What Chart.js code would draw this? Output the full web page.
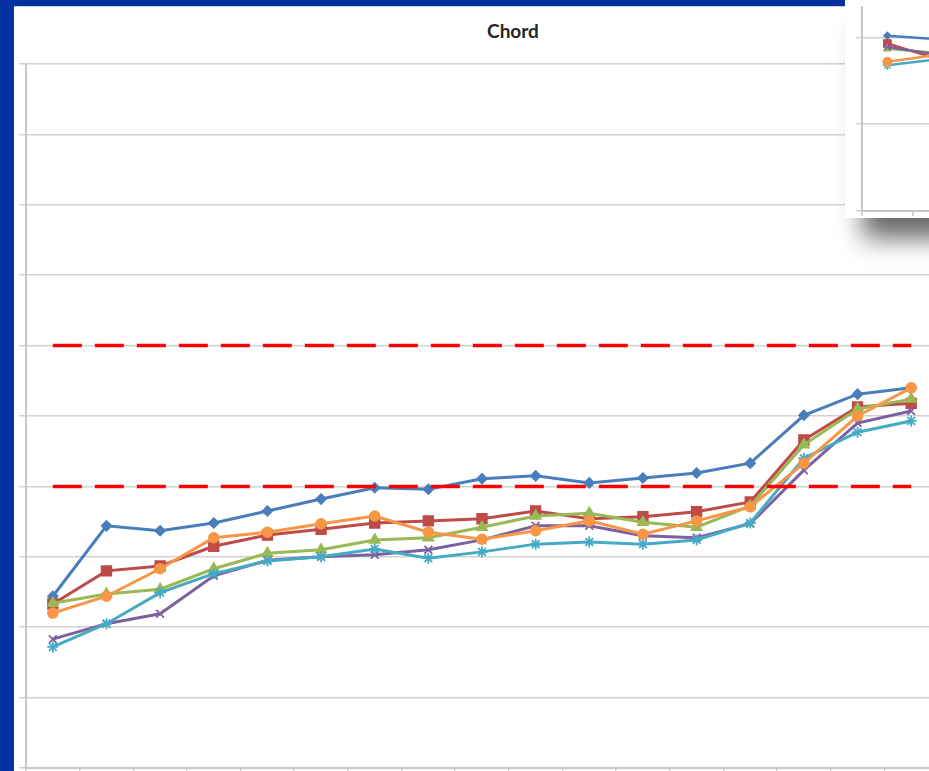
<!DOCTYPE html>
<html>
<head>
<meta charset="utf-8">
<script src="https://cdn.jsdelivr.net/npm/chart.js@4.4.1/dist/chart.umd.min.js"></script>
<style>
  html, body { margin:0; padding:0; width:929px; height:771px; overflow:hidden; background:#0232a2; }
  #panel { position:absolute; left:14px; top:6px; width:1000px; height:800px; background:#fff; border-top:1px solid #cfcfcf; }
  #mainWrap { position:absolute; left:0; top:0; width:960px; height:800px; }
  #title { position:absolute; left:0; width:1026px; top:19px; text-align:center; font-family:Lato, "Open Sans", sans-serif; font-weight:bold; font-size:19px; color:#262626; }
  #inset { position:absolute; left:845px; top:0; width:125px; height:218px; background:#fff; box-shadow: 14px 24px 24px -4px rgba(0,0,0,0.6); }
</style>
</head>
<body>
<div id="panel"></div>
<div id="title">Chord</div>
<div id="mainWrap"><canvas id="main" width="960" height="800"></canvas></div>
<div id="inset"><canvas id="ins" width="125" height="218"></canvas></div>
<script>
// ---- data (main chart) ----
const categories = ["1","2","3","4","5","6","7","8","9","10","11","12","13","14","15","16","17"];
const seriesBlue   = [2.44,3.44,3.37,3.48,3.65,3.82,3.98,3.96,4.11,4.15,4.05,4.12,4.19,4.33,5.01,5.31,5.40];
const seriesRed    = [2.33,2.80,2.87,3.15,3.31,3.39,3.48,3.51,3.54,3.65,3.54,3.57,3.64,3.78,4.66,5.13,5.18];
const seriesGreen  = [2.34,2.47,2.54,2.83,3.05,3.10,3.24,3.27,3.42,3.58,3.62,3.49,3.42,3.72,4.59,5.10,5.24];
const seriesPurple = [1.83,2.05,2.19,2.73,2.95,3.00,3.03,3.10,3.24,3.44,3.44,3.30,3.27,3.47,4.23,4.90,5.07];
const seriesCyan   = [1.72,2.05,2.49,2.76,2.94,3.00,3.11,2.98,3.07,3.18,3.21,3.18,3.24,3.48,4.40,4.77,4.93];
const seriesOrange = [2.20,2.44,2.83,3.27,3.35,3.47,3.58,3.35,3.25,3.37,3.51,3.32,3.51,3.71,4.33,5.00,5.40];
const upperLimit = 6;
const lowerLimit = 4;
const yTicks = [0,1,2,3,4,5,6,7,8,9,10];

// ---- data (inset chart, partly visible) ----
const insetCategories = ["1","2"];
const insetBlue   = [2.02,1.98];
const insetRed    = [1.93,1.75];
const insetPurple = [1.89,1.80];
const insetGreen  = [1.87,1.82];
const insetOrange = [1.72,1.80];
const insetCyan   = [1.68,1.75];
const insetTicks  = [0,1,2];

const C = { blue:'#4a7ebb', red:'#be4b48', green:'#98b954', purple:'#7d60a0', cyan:'#46aac5', orange:'#f79646' };

function series(data, color, style, r, order, lw, pbw) {
  return { data, borderColor:color, backgroundColor:color, borderWidth:lw, pointStyle:style,
           pointRadius:r, pointBorderWidth:pbw, pointBorderColor:color, pointBackgroundColor:color,
           tension:0, order };
}
function limit(v, n) { return { data: new Array(n).fill(v), borderColor:'#ff0000', borderWidth:3.5, borderDash:[29,13], pointRadius:0, tension:0, order:-1 }; }

new Chart(document.getElementById('main'), {
  type:'line',
  data:{ labels:categories, datasets:[
    series(seriesBlue,  C.blue,  'rectRot', 5,   5, 3, 1.5),
    series(seriesRed,   C.red,   'rect',    7,   4, 3, 1.5),
    series(seriesGreen, C.green, 'triangle',6,   3, 3, 1.5),
    series(seriesPurple,C.purple,'crossRot',5.5, 2, 3, 1.8),
    series(seriesCyan,  C.cyan,  'star',    5.5, 1, 3, 1.8),
    series(seriesOrange,C.orange,'circle',  5,   0, 3, 1.5),
    limit(upperLimit, categories.length),
    limit(lowerLimit, categories.length)
  ]},
  options:{
    responsive:false, animation:false, devicePixelRatio:1,
    layout:{ padding:{ left:19, top:64, right:22, bottom:27 } },
    plugins:{ legend:{display:false}, tooltip:{enabled:false}, title:{display:false} },
    scales:{
      x:{ offset:true, ticks:{display:false},
          grid:{ offset:true, drawOnChartArea:false, drawTicks:true, tickLength:5, color:'#c8c8c8', lineWidth:1.5 },
          border:{ color:'#c8c8c8', width:2 } },
      y:{ min:0, max:10, ticks:{display:false},
          afterBuildTicks: s => { s.ticks = yTicks.map(v => ({value:v})); },
          grid:{ color:'#d2d2d2', lineWidth:1.5, tickLength:7 },
          border:{ color:'#c8c8c8', width:2 } }
    }
  }
});

new Chart(document.getElementById('ins'), {
  type:'line',
  data:{ labels:insetCategories, datasets:[
    series(insetBlue,  C.blue,  'rectRot', 4,   5, 2.5, 1),
    series(insetRed,   C.red,   'rect',    5.5, 4, 2.5, 1),
    series(insetGreen, C.green, 'triangle',4.5, 3, 2.5, 1),
    series(insetPurple,C.purple,'crossRot',4.5, 2, 2.5, 1.5),
    series(insetCyan,  C.cyan,  'star',    4.5, 1, 2.5, 1.5),
    series(insetOrange,C.orange,'circle',  4.5, 0, 2.5, 1)
  ]},
  options:{
    responsive:false, animation:false, devicePixelRatio:1,
    layout:{ padding:{ left:11, top:0, right:0, bottom:2 } },
    plugins:{ legend:{display:false}, tooltip:{enabled:false} },
    scales:{
      x:{ offset:true, ticks:{display:false},
          grid:{ offset:true, drawOnChartArea:false, tickLength:5, color:'#c8c8c8', lineWidth:1.5 },
          border:{ color:'#c8c8c8', width:2 } },
      y:{ min:0, max:2.357, ticks:{display:false},
          afterBuildTicks: s => { s.ticks = insetTicks.map(v => ({value:v})); },
          grid:{ color:'#d2d2d2', lineWidth:1.5, tickLength:6 },
          border:{ color:'#c8c8c8', width:2 } }
    }
  }
});
</script>
</body>
</html>
